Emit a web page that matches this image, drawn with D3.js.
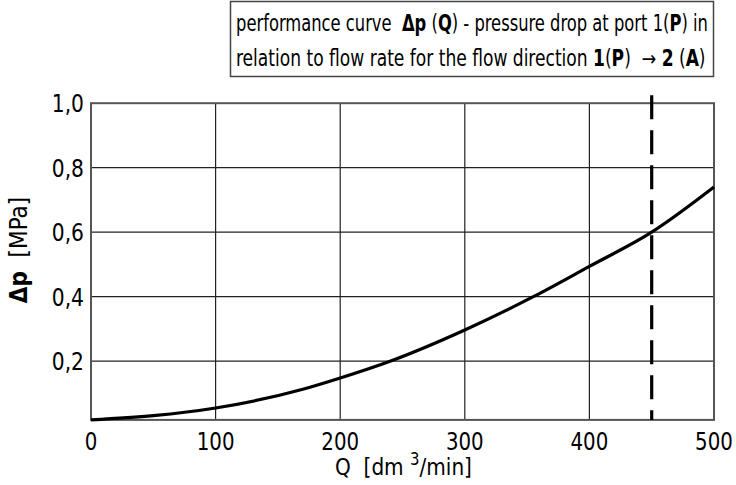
<!DOCTYPE html>
<html>
<head>
<meta charset="utf-8">
<script src="https://cdn.jsdelivr.net/npm/d3@7"></script>
<style>
  body { margin: 0; background: #fff; }
  svg { font-family: "Liberation Sans Narrow", "DejaVu Sans Condensed", "Noto Sans", sans-serif; }
  svg text { white-space: pre; }
</style>
</head>
<body>
<div id="chart"></div>
<script>
// flow rate Q [dm3/min] and pressure drop dp [MPa]
var flowQ = [0, 50, 100, 170, 200, 240, 300, 355, 400, 450, 500]
var dropP = [0.018, 0.031, 0.055, 0.113, 0.148, 0.2, 0.297, 0.4, 0.494, 0.6, 0.74]

var xTicks = [0, 100, 200, 300, 400, 500]
var yTicks = [0.2, 0.4, 0.6, 0.8, 1.0]
var yTickLabels = ['0,2', '0,4', '0,6', '0,8', '1,0']
var markerQ = 450
var yBottom = 0.018

var width = 736
var height = 485

var svg = d3.select('#chart')
    .append('svg')
    .attr('width', width)
    .attr('height', height)

var x = d3.scaleLinear().domain([0, 500]).range([91, 714])
var y = d3.scaleLinear().domain([0, 1]).range([425.7, 103.2])

// grid
var grid = svg.append('g').attr('class', 'grid')

grid.selectAll('line.vx')
    .data(xTicks.slice(1, -1))
    .enter().append('line')
    .attr('x1', d => x(d)).attr('x2', d => x(d))
    .attr('y1', y(1)).attr('y2', y(yBottom))
    .attr('stroke', '#222').attr('stroke-width', 1.2)

grid.selectAll('line.hy')
    .data(yTicks.slice(0, -1))
    .enter().append('line')
    .attr('x1', x(0)).attr('x2', x(500))
    .attr('y1', d => y(d)).attr('y2', d => y(d))
    .attr('stroke', '#222').attr('stroke-width', 1.2)

// frame
svg.append('rect')
    .attr('x', x(0)).attr('y', y(1))
    .attr('width', x(500) - x(0))
    .attr('height', y(yBottom) - y(1))
    .attr('fill', 'none')
    .attr('stroke', '#555')
    .attr('stroke-width', 2)

// dashed marker
svg.append('line')
    .attr('x1', x(markerQ)).attr('x2', x(markerQ))
    .attr('y1', y(1) - 8).attr('y2', y(yBottom))
    .attr('stroke', '#000')
    .attr('stroke-width', 3.2)
    .attr('stroke-dasharray', '24,11')

// curve
var pts = flowQ.map((q, i) => [q, dropP[i]])
var line = d3.line()
    .x(d => x(d[0]))
    .y(d => y(d[1]))
    .curve(d3.curveMonotoneX)

svg.append('path')
    .datum(pts)
    .attr('d', line)
    .attr('fill', 'none')
    .attr('stroke', '#000')
    .attr('stroke-width', 3.2)

// fit a text to a width by scaling it sideways
function fitWidth(t, x0, y0, target) {
    var w = t.node().getBBox().width
    t.attr('transform', 'translate(' + x0 + ',' + y0 + ') scale(' + (target / w) + ',1)')
}

// tick labels (narrowed a bit, the original face is condensed)
svg.selectAll('text.ytick')
    .data(yTicks)
    .enter().append('text')
    .attr('class', 'ytick')
    .attr('transform', d => 'translate(84,' + (y(d) + 9) + ') scale(0.9,1)')
    .attr('text-anchor', 'end')
    .attr('font-size', 25)
    .text((d, i) => yTickLabels[i])

svg.selectAll('text.xtick')
    .data(xTicks)
    .enter().append('text')
    .attr('class', 'xtick')
    .attr('transform', d => 'translate(' + x(d) + ',450) scale(0.88,1)')
    .attr('text-anchor', 'middle')
    .attr('font-size', 25)
    .text(d => d)

// axis titles
var xt = svg.append('text')
    .attr('font-size', 23)
xt.append('tspan').text('Q  [dm ')
xt.append('tspan').attr('dy', -10).attr('font-size', 17).text('3')
xt.append('tspan').attr('dy', 10).text('/min]')
fitWidth(xt, 335, 475, 137)

var yt = svg.append('text')
    .attr('transform', 'translate(27,250) rotate(-90)')
    .attr('text-anchor', 'middle')
    .attr('font-size', 24)
yt.append('tspan').attr('font-weight', 'bold').text('Δp')
yt.append('tspan').text('  [MPa]')

// title box
svg.append('rect')
    .attr('x', 230.5).attr('y', 1.5)
    .attr('width', 483).attr('height', 75)
    .attr('fill', '#fff')
    .attr('stroke', '#444')
    .attr('stroke-width', 1.5)

var titleLines = [
    [['performance curve  ', 0], ['Δp', 1], [' (', 0], ['Q', 1], [') - pressure drop at port 1(', 0], ['P', 1], [') in', 0]],
    [['relation to flow rate for the flow direction ', 0], ['1', 1], ['(', 0], ['P', 1], [')  ', 0], ['\u2192', 2], [' ', 0], ['2', 1], [' (', 0], ['A', 1], [')', 0]]
]

titleLines.forEach(function (parts, i) {
    var t = svg.append('text')
        .attr('font-size', 23)
    parts.forEach(function (p) {
        var s = t.append('tspan')
            .attr('font-weight', p[1] === 1 ? 'bold' : 'normal')
            .text(p[0])
        if (p[1] === 2) s.attr('font-family', 'DejaVu Sans').attr('font-size', 21)
    })
    fitWidth(t, 236, 31 + i * 35, i === 0 ? 472 : 470)
})
</script>
</body>
</html>
